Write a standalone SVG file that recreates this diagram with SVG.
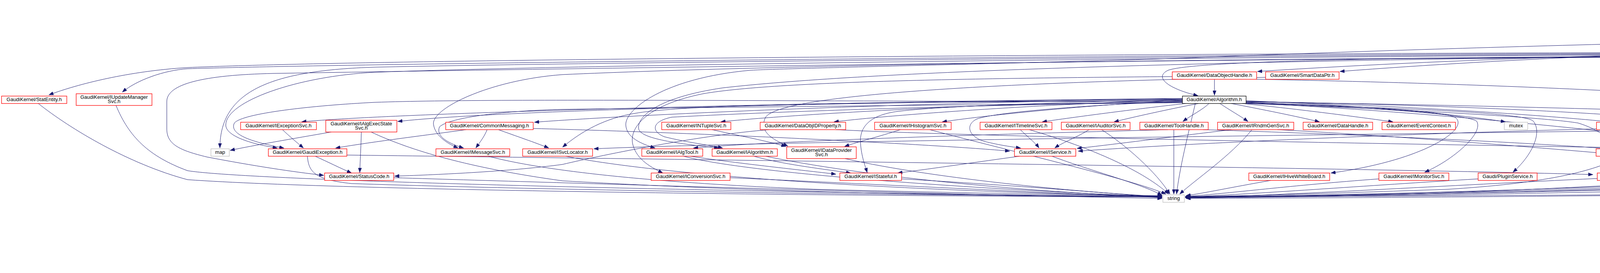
<svg xmlns="http://www.w3.org/2000/svg" width="5761" height="699" viewBox="0 0 5761 699">
<style>
.e{fill:none;stroke:#191970;stroke-width:1;marker-end:url(#a)}
.r{fill:#fff;stroke:#ff0000;stroke-width:1.3}
.k{fill:#fff;stroke:#000;stroke-width:1.3}
.g{fill:#fff;stroke:#bfbfbf;stroke-width:1.3}
.root{fill:#bfbfbf;stroke:#000;stroke-width:1.3}
text{font-family:"Liberation Sans",Arial,sans-serif;font-size:13px;text-anchor:middle;fill:#000}
</style>
<defs>
<marker id="a" markerWidth="12" markerHeight="9" refX="12" refY="4.5" orient="auto" markerUnits="userSpaceOnUse"><path d="M0,0 L12,4.5 L0,9 z" fill="#191970" stroke="#191970" stroke-width="0.5"/></marker>
</defs>
<rect width="5761" height="699" fill="#fff"/>
<g id="edges">
<path class="e" d="M5553,35 C5510,47 5462,60 5421,71"/>
<path class="e" d="M5603,35 L5603,400 C5603,460 5450,482 5250,487 C4600,497 3600,503 3034,504"/>
<path class="e" d="M5643,35 C5720,70 5756,110 5756,160 L5756,420 C5756,495 5450,506 5231,508"/>
<path class="e" d="M5402,91 C5425,103 5455,116 5478,127"/>
<path class="e" d="M5387,91 C5390,130 5410,155 5450,178 C5510,215 5535,270 5533,320 C5532,350 5531,365 5530,379"/>
<path class="e" d="M5475,86 C5600,100 5705,150 5705,200 L5705,420 C5705,492 5450,503 5231,505"/>
<path class="e" d="M5295,84 C4900,92 4500,122 4278,131"/>
<path class="e" d="M5295,88 C4500,100 3600,125 3000,150 C2500,165 2000,175 1920,180 C1700,200 1600,280 1602,320 C1604,352 1640,368 1677,379"/>
<path class="e" d="M4187,147 L4187,311"/>
<path class="e" d="M4198,147 C4260,200 4350,260 4398,310"/>
<path class="e" d="M4210,147 C4350,200 4500,262 4598,306"/>
<path class="e" d="M4276,140 C4600,152 4850,168 5015,183"/>
<path class="e" d="M4276,143 C4700,153 5100,168 5259,184"/>
<path class="e" d="M4099,135 C3000,138 1000,150 480,173 C330,182 200,215 125,243"/>
<path class="e" d="M4099,137 C3000,141 1000,160 480,176 C420,180 350,205 313,236"/>
<path class="e" d="M4099,139 C3000,145 1500,160 960,172 C700,180 563,230 563,379"/>
<path class="e" d="M4099,141 C3000,148 1500,165 960,185 C760,195 578,260 578,320 C578,350 650,370 710,379"/>
<path class="e" d="M4099,143 C3800,152 3500,165 3219,183"/>
<path class="e" d="M4099,144 C3900,152 3650,166 3430,183"/>
<path class="e" d="M4099,145 C3500,148 3050,158 2990,180 C2950,200 3000,230 3067,245"/>
<path class="e" d="M4099,146 C3000,152 2000,166 1440,191 C1250,205 1100,280 1110,320 C1115,350 1150,370 1173,379"/>
<path class="e" d="M4099,147 C3000,152 1500,175 700,188 C520,192 427,215 427,260 L427,330 C427,370 460,385 530,402 C650,425 750,440 829,449"/>
<path class="e" d="M4099,146 C3000,158 2200,185 1850,225 C1680,250 1630,300 1635,330 C1640,358 1760,370 1840,379"/>
<path class="e" d="M4276,146 C4500,170 4770,250 4780,300 C4785,350 4500,420 4246,448"/>
<path class="e" d="M4276,147 C4600,180 4880,260 4903,330 C4920,390 4850,430 4700,450 C4200,480 3500,500 3034,504"/>
<path class="e" d="M4276,145 C4900,152 5440,160 5475,188 C5500,215 5420,262 5280,275 C5120,290 5060,360 5100,430 C5130,470 5150,490 5168,502"/>
<path class="e" d="M3109,203 L3109,244"/>
<path class="e" d="M3001,196 C2600,200 2000,205 1800,240 C1650,270 1610,330 1620,370 C1630,410 1670,430 1697,443"/>
<path class="e" d="M3217,203 C3600,210 4300,230 4800,280 C5200,310 5350,380 5400,442"/>
<path class="e" d="M3240,198 C2600,210 2000,240 1960,300 C1940,340 1985,360 2017,374"/>
<path class="e" d="M3027,252 C2000,262 1000,290 772,312"/>
<path class="e" d="M3027,253 C2200,262 1300,280 1018,311"/>
<path class="e" d="M3027,254 C2300,262 1600,295 1368,313"/>
<path class="e" d="M3027,255 C2500,265 2000,295 1845,312"/>
<path class="e" d="M3027,256 C2700,265 2300,292 2135,312"/>
<path class="e" d="M3027,257 C2800,268 2550,292 2412,312"/>
<path class="e" d="M3035,265 C2900,280 2750,300 2668,312"/>
<path class="e" d="M3068,265 C2990,280 2900,300 2852,312"/>
<path class="e" d="M3095,265 C3080,280 3050,295 3028,311"/>
<path class="e" d="M3123,265 C3145,280 3175,297 3195,311"/>
<path class="e" d="M3152,265 C3230,280 3320,298 3378,312"/>
<path class="e" d="M3180,265 C3330,280 3480,300 3566,312"/>
<path class="e" d="M3190,258 C3500,270 3750,295 3854,312"/>
<path class="e" d="M3190,259 C3600,270 3950,295 4121,312"/>
<path class="e" d="M3190,260 C3700,268 4150,290 4348,313"/>
<path class="e" d="M3190,261 C3900,270 4700,295 5060,316"/>
<path class="e" d="M3190,262 C3400,270 3700,280 3727,302 C3760,330 3650,410 3407,443"/>
<path class="e" d="M3190,263 C3450,272 3750,290 3780,310 C3800,340 3720,410 3647,441"/>
<path class="e" d="M3190,264 C3500,275 3900,285 3925,310 C3950,340 3920,400 3873,441"/>
<path class="e" d="M3190,265 C3600,280 3950,300 4040,315 C4090,330 4120,355 4142,378"/>
<path class="e" d="M3027,258 C2500,262 1800,260 1627,290 C1550,302 1490,335 1440,377"/>
<path class="e" d="M3027,259 C2200,262 1300,250 960,262 C800,270 620,290 600,315 C585,345 650,365 727,379"/>
<path class="e" d="M3027,260 C2850,265 2550,285 2500,305 C2470,320 2480,350 2520,362 C2560,372 2590,376 2613,379"/>
<path class="e" d="M3027,261 C2700,265 2450,268 2300,285 C2220,295 2200,330 2203,367 C2205,400 2215,425 2220,442"/>
<path class="e" d="M3027,262 C2500,268 2000,285 1720,300 C1670,310 1665,335 1700,350 C1760,365 1820,372 1850,379"/>
<path class="e" d="M3027,263 C2500,268 1800,275 1440,280 C1300,283 1150,300 1125,325 C1115,350 1150,368 1187,379"/>
<path class="e" d="M3060,265 C3040,350 3020,430 3012,497"/>
<path class="e" d="M3190,264 C3800,290 4800,400 5168,502"/>
<path class="e" d="M2990,332 C2500,345 2000,360 1775,379"/>
<path class="e" d="M3080,332 C3500,345 3900,365 4108,380"/>
<path class="e" d="M3005,332 L3005,497"/>
<path class="e" d="M723,332 C740,348 760,365 777,379"/>
<path class="e" d="M848,338 C750,355 650,372 589,385"/>
<path class="e" d="M925,338 C924,380 922,410 921,442"/>
<path class="e" d="M950,338 C1050,385 1200,430 1440,463 C2000,495 2600,503 2975,504"/>
<path class="e" d="M1193,332 C1100,345 960,362 859,379"/>
<path class="e" d="M1247,332 C1240,350 1228,365 1218,379"/>
<path class="e" d="M1276,332 C1320,348 1370,365 1405,379"/>
<path class="e" d="M1365,329 C1800,340 2400,370 2585,387"/>
<path class="e" d="M1823,332 C1880,345 1960,360 2012,375"/>
<path class="e" d="M1970,332 C1800,345 1550,395 1440,421 C1300,440 1100,448 1010,451"/>
<path class="e" d="M2140,332 C2600,355 4000,375 4684,387"/>
<path class="e" d="M2305,332 C2250,350 2200,362 2162,375"/>
<path class="e" d="M2380,332 C2600,390 2900,460 2985,497"/>
<path class="e" d="M2612,332 C2630,350 2650,365 2660,379"/>
<path class="e" d="M2635,332 C2800,380 2930,440 2992,497"/>
<path class="e" d="M2788,332 C2760,350 2720,365 2700,379"/>
<path class="e" d="M2820,332 C2880,370 2960,440 2995,497"/>
<path class="e" d="M3205,332 C3150,400 3060,460 3020,497"/>
<path class="e" d="M3153,332 C3000,350 2850,370 2757,380"/>
<path class="e" d="M3270,332 C3800,360 4700,440 5168,504"/>
<path class="e" d="M4207,332 C4250,350 4262,370 4262,400 L4262,445 C4262,470 4200,478 4100,482 C3700,495 3300,503 3034,505"/>
<path class="e" d="M4087,330 C3500,345 3000,370 2760,387"/>
<path class="e" d="M4350,332 C3500,345 2000,360 1520,381"/>
<path class="e" d="M4470,332 C4800,360 5000,430 5168,498"/>
<path class="e" d="M4610,338 C4500,390 4350,445 4200,470 C3800,495 3300,505 3034,506"/>
<path class="e" d="M5163,332 C5158,370 5148,410 5143,442"/>
<path class="e" d="M5172,332 C5220,390 5240,440 5213,497"/>
<path class="e" d="M5113,332 C5020,350 4900,368 4827,379"/>
<path class="e" d="M5157,332 C5050,410 4950,460 4700,478 C4000,495 3400,505 3034,506"/>
<path class="e" d="M5212,332 C5300,350 5420,372 5486,384"/>
<path class="e" d="M5068,329 C4800,338 4450,370 4249,387"/>
<path class="e" d="M807,400 C840,415 870,430 900,443"/>
<path class="e" d="M787,400 C790,440 805,460 900,470 C1500,490 2500,502 2975,503"/>
<path class="e" d="M888,397 C1500,405 3500,430 4078,447"/>
<path class="e" d="M1250,400 C1400,440 1700,470 2100,485 C2500,495 2800,500 2975,501"/>
<path class="e" d="M1448,400 C1700,450 2300,490 2975,502"/>
<path class="e" d="M1750,400 C1900,440 2400,480 2975,504"/>
<path class="e" d="M1767,400 C1900,420 2050,435 2140,446"/>
<path class="e" d="M1930,400 C2000,420 2100,432 2178,443"/>
<path class="e" d="M1960,400 C2200,450 2600,490 2975,505"/>
<path class="e" d="M2163,406 C2400,460 2800,495 2975,503"/>
<path class="e" d="M2693,400 C2800,440 2920,470 2975,500"/>
<path class="e" d="M2610,400 C2500,415 2400,430 2298,443"/>
<path class="e" d="M4166,400 L4166,441"/>
<path class="e" d="M4153,400 C4080,440 3950,470 3700,485 C3400,495 3200,502 3034,503"/>
<path class="e" d="M4800,398 C4900,415 5000,430 5080,443"/>
<path class="e" d="M4737,400 C4650,440 4500,470 4200,482 C3800,495 3400,503 3034,505"/>
<path class="e" d="M4810,400 C4950,440 5080,480 5168,500"/>
<path class="e" d="M4700,400 C4550,420 4350,435 4235,443"/>
<path class="e" d="M2308,458 C2600,475 2850,495 2975,506"/>
<path class="e" d="M1869,455 C2200,470 2700,495 2975,506"/>
<path class="e" d="M1008,455 C1500,470 2500,500 2975,508"/>
<path class="e" d="M3253,462 C3150,480 3080,495 3036,501"/>
<path class="e" d="M3530,458 C3300,475 3150,495 3036,503"/>
<path class="e" d="M3784,458 C3500,475 3200,498 3036,504"/>
<path class="e" d="M4089,457 C3700,475 3300,500 3036,506"/>
<path class="e" d="M4243,458 C4600,470 5000,495 5168,506"/>
<path class="e" d="M5110,462 C5140,475 5170,488 5187,498"/>
<path class="e" d="M5060,459 C4500,480 3600,500 3036,507"/>
<path class="e" d="M5373,462 C5300,480 5000,490 4700,495 C4000,503 3400,507 3036,508"/>
<path class="e" d="M5370,203 C5420,250 5480,320 5520,378"/>
<path class="e" d="M5300,203 C5300,250 5290,300 5270,320 C5230,360 5190,400 5168,441"/>
<path class="e" d="M98,265 C180,330 330,420 480,460 C900,490 2300,503 2975,504"/>
<path class="e" d="M297,270 C330,350 380,400 480,437 C650,465 2000,495 2975,503"/>
</g>
<g id="n_EventNodeKiller"><rect class="root" x="5517" y="5" width="173" height="30"/><text x="5603.5" y="17.5">GaudiAlg/src/components</text><text x="5603.5" y="27.8">/EventNodeKiller.h</text></g>
<g id="n_GaudiAlgorithm"><rect class="k" x="5295" y="72" width="180" height="19"/><text x="5385" y="85">GaudiAlg/GaudiAlgorithm.h</text></g>
<g id="n_GaudiAlg"><rect class="k" x="5423" y="128" width="143" height="19"/><text x="5494.5" y="141">GaudiAlg/GaudiAlg.h</text></g>
<g id="n_GaudiCommon"><rect class="k" x="4099" y="128" width="177" height="19"/><text x="4187.5" y="141">GaudiAlg/GaudiCommon.h</text></g>
<g id="n_DataObjectHandle"><rect class="r" x="3001" y="184" width="216" height="19"/><text x="3109" y="197">GaudiKernel/DataObjectHandle.h</text></g>
<g id="n_SmartDataPtr"><rect class="r" x="3240" y="184" width="188" height="19"/><text x="3334" y="197">GaudiKernel/SmartDataPtr.h</text></g>
<g id="n_HashMap"><rect class="r" x="5017" y="184" width="165" height="19"/><text x="5099.5" y="197">GaudiKernel/HashMap.h</text></g>
<g id="n_GaudiCommonImp"><rect class="r" x="5261" y="184" width="199" height="19"/><text x="5360.5" y="197">GaudiAlg/GaudiCommonImp.h</text></g>
<g id="n_StatEntity"><rect class="r" x="4" y="246" width="167" height="19"/><text x="87.5" y="259">GaudiKernel/StatEntity.h</text></g>
<g id="n_IUpdateManagerSvc"><rect class="r" x="195" y="240" width="194" height="30"/><text x="292" y="253.3">GaudiKernel/IUpdateManager</text><text x="292" y="263.5">Svc.h</text></g>
<g id="n_Algorithm"><rect class="k" x="3027" y="246" width="163" height="19"/><text x="3108.5" y="259">GaudiKernel/Algorithm.h</text></g>
<g id="n_IExceptionSvc"><rect class="r" x="616" y="313" width="194" height="19"/><text x="713" y="326">GaudiKernel/IExceptionSvc.h</text></g>
<g id="n_IAlgExecStateSvc"><rect class="r" x="834" y="308" width="182" height="30"/><text x="925" y="321.3">GaudiKernel/IAlgExecState</text><text x="925" y="331.5">Svc.h</text></g>
<g id="n_CommonMessaging"><rect class="r" x="1141" y="313" width="224" height="19"/><text x="1253" y="326">GaudiKernel/CommonMessaging.h</text></g>
<g id="n_INTupleSvc"><rect class="r" x="1694" y="313" width="177" height="19"/><text x="1782.5" y="326">GaudiKernel/INTupleSvc.h</text></g>
<g id="n_DataObjIDProperty"><rect class="r" x="1946" y="313" width="219" height="19"/><text x="2055.5" y="326">GaudiKernel/DataObjIDProperty.h</text></g>
<g id="n_IHistogramSvc"><rect class="r" x="2239" y="313" width="196" height="19"/><text x="2337" y="326">GaudiKernel/IHistogramSvc.h</text></g>
<g id="n_ITimelineSvc"><rect class="r" x="2509" y="313" width="184" height="19"/><text x="2601" y="326">GaudiKernel/ITimelineSvc.h</text></g>
<g id="n_IAuditorSvc"><rect class="r" x="2717" y="313" width="176" height="19"/><text x="2805" y="326">GaudiKernel/IAuditorSvc.h</text></g>
<g id="n_ToolHandle"><rect class="r" x="2918" y="313" width="175" height="19"/><text x="3005.5" y="326">GaudiKernel/ToolHandle.h</text></g>
<g id="n_IRndmGenSvc"><rect class="r" x="3117" y="313" width="195" height="19"/><text x="3214.5" y="326">GaudiKernel/IRndmGenSvc.h</text></g>
<g id="n_DataHandle"><rect class="r" x="3336" y="313" width="178" height="19"/><text x="3425" y="326">GaudiKernel/DataHandle.h</text></g>
<g id="n_EventContext"><rect class="r" x="3538" y="313" width="188" height="19"/><text x="3632" y="326">GaudiKernel/EventContext.h</text></g>
<g id="n_mutex"><rect class="g" x="3851" y="313" width="60" height="19"/><text x="3881" y="326">mutex</text></g>
<g id="n_IChronoStatSvc"><rect class="r" x="4087" y="313" width="202" height="19"/><text x="4188" y="326">GaudiKernel/IChronoStatSvc.h</text></g>
<g id="n_IAlgContextSvc"><rect class="r" x="4313" y="313" width="200" height="19"/><text x="4413" y="326">GaudiKernel/IAlgContextSvc.h</text></g>
<g id="n_ICounterSummarySvc"><rect class="k" x="4537" y="308" width="203" height="30"/><text x="4638.5" y="321.3">GaudiKernel/ICounterSummary</text><text x="4638.5" y="331.5">Svc.h</text></g>
<g id="n_PropertyHolder"><rect class="r" x="5068" y="313" width="195" height="19"/><text x="5165.5" y="326">GaudiKernel/PropertyHolder.h</text></g>
<g id="n_map"><rect class="g" x="540" y="381" width="47" height="19"/><text x="563.5" y="394">map</text></g>
<g id="n_GaudiException"><rect class="r" x="687" y="381" width="201" height="19"/><text x="787.5" y="394">GaudiKernel/GaudiException.h</text></g>
<g id="n_IMessageSvc"><rect class="r" x="1116" y="381" width="189" height="19"/><text x="1210.5" y="394">GaudiKernel/IMessageSvc.h</text></g>
<g id="n_ISvcLocator"><rect class="r" x="1338" y="381" width="179" height="19"/><text x="1427.5" y="394">GaudiKernel/ISvcLocator.h</text></g>
<g id="n_IAlgTool"><rect class="r" x="1643" y="381" width="156" height="19"/><text x="1721" y="394">GaudiKernel/IAlgTool.h</text></g>
<g id="n_IAlgorithm"><rect class="r" x="1823" y="381" width="167" height="19"/><text x="1906.5" y="394">GaudiKernel/IAlgorithm.h</text></g>
<g id="n_IDataProviderSvc"><rect class="r" x="2014" y="376" width="178" height="30"/><text x="2103" y="389.3">GaudiKernel/IDataProvider</text><text x="2103" y="399.5">Svc.h</text></g>
<g id="n_IService"><rect class="r" x="2597" y="381" width="157" height="19"/><text x="2675.5" y="394">GaudiKernel/IService.h</text></g>
<g id="n_IToolSvc"><rect class="r" x="4086" y="381" width="161" height="19"/><text x="4166.5" y="394">GaudiKernel/IToolSvc.h</text></g>
<g id="n_Property"><rect class="r" x="4686" y="381" width="158" height="19"/><text x="4765" y="394">GaudiKernel/Property.h</text></g>
<g id="n_algorithm"><rect class="g" x="5489" y="381" width="75" height="19"/><text x="5526.5" y="394">algorithm</text></g>
<g id="n_StatusCode"><rect class="r" x="831" y="443" width="177" height="19"/><text x="919.5" y="456">GaudiKernel/StatusCode.h</text></g>
<g id="n_IConversionSvc"><rect class="r" x="1667" y="443" width="202" height="19"/><text x="1768" y="456">GaudiKernel/IConversionSvc.h</text></g>
<g id="n_IStateful"><rect class="r" x="2150" y="443" width="158" height="19"/><text x="2229" y="456">GaudiKernel/IStateful.h</text></g>
<g id="n_IHiveWhiteBoard"><rect class="r" x="3197" y="443" width="207" height="19"/><text x="3300.5" y="456">GaudiKernel/IHiveWhiteBoard.h</text></g>
<g id="n_IMonitorSvc"><rect class="r" x="3530" y="443" width="179" height="19"/><text x="3619.5" y="456">GaudiKernel/IMonitorSvc.h</text></g>
<g id="n_PluginService"><rect class="r" x="3784" y="443" width="151" height="19"/><text x="3859.5" y="456">Gaudi/PluginService.h</text></g>
<g id="n_System"><rect class="r" x="4089" y="443" width="154" height="19"/><text x="4166" y="456">GaudiKernel/System.h</text></g>
<g id="n_IProperty"><rect class="r" x="5060" y="443" width="162" height="19"/><text x="5141" y="456">GaudiKernel/IProperty.h</text></g>
<g id="n_IDataHandleHolder"><rect class="r" x="5297" y="443" width="219" height="19"/><text x="5406.5" y="456">GaudiKernel/IDataHandleHolder.h</text></g>
<g id="n_string"><rect class="g" x="2977" y="499" width="55" height="19"/><text x="3004.5" y="512">string</text></g>
<g id="n_vector"><rect class="g" x="5170" y="499" width="59" height="19"/><text x="5199.5" y="512">vector</text></g>
</svg>
